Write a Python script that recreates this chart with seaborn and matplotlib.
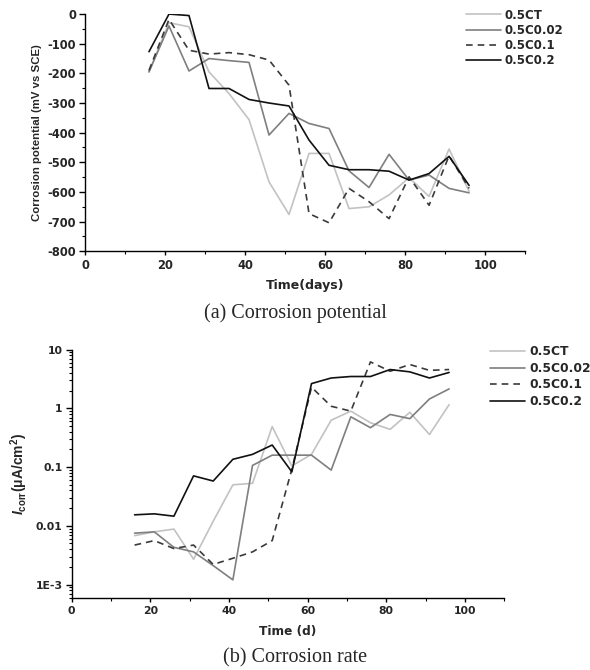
import numpy as np
import pandas as pd
import seaborn as sns
import matplotlib
matplotlib.use('Agg')
import matplotlib.pyplot as plt
from matplotlib.ticker import MultipleLocator, FixedLocator, LogLocator, NullFormatter

days = [16, 21, 26, 31, 36, 41, 46, 51, 56, 61, 66, 71, 76, 81, 86, 91, 96]
samples = ['0.5CT', '0.5C0.02', '0.5C0.1', '0.5C0.2']

# corrosion potential, mV vs SCE
ecorr_ct = [-195, -29, -43, -195, -268, -356, -566, -676, -470, -470, -656, -650, -610, -552, -615, -455, -598]
ecorr_c002 = [-195, -40, -192, -150, -157, -163, -408, -335, -369, -386, -529, -585, -473, -560, -543, -588, -603]
ecorr_c01 = [-190, -18, -122, -135, -130, -137, -155, -240, -673, -704, -588, -633, -690, -549, -645, -478, -588]
ecorr_c02 = [-127, 0, -5, -251, -251, -288, -300, -310, -425, -510, -525, -525, -530, -560, -538, -480, -578]

# corrosion current density, uA/cm2
icorr_ct = [0.0068, 0.0079, 0.0088, 0.0027, 0.012, 0.050, 0.053, 0.49, 0.105, 0.165, 0.63, 0.90, 0.57, 0.44, 0.86, 0.36, 1.16]
icorr_c002 = [0.0075, 0.0079, 0.0043, 0.0036, 0.0021, 0.0012, 0.107, 0.16, 0.16, 0.16, 0.089, 0.72, 0.47, 0.79, 0.67, 1.45, 2.15]
icorr_c01 = [0.0047, 0.0056, 0.0041, 0.0047, 0.0022, 0.0028, 0.0036, 0.0056, 0.092, 2.3, 1.09, 0.90, 6.2, 4.3, 5.6, 4.45, 4.6]
icorr_c02 = [0.0154, 0.016, 0.0146, 0.071, 0.058, 0.136, 0.165, 0.238, 0.083, 2.65, 3.3, 3.5, 3.5, 4.6, 4.2, 3.3, 4.1]

ylog_ticks = [1e-3, 0.01, 0.1, 1, 10]
ylog_labels = ['1E-3', '0.01', '0.1', '1', '10']

colors = {'0.5CT': '#c2c2c2', '0.5C0.02': '#7f7f7f', '0.5C0.1': '#3a3a3a', '0.5C0.2': '#111111'}
dashes = {'0.5CT': '', '0.5C0.02': '', '0.5C0.1': (4, 3), '0.5C0.2': ''}


def long_df(series):
    rows = []
    for name, vals in zip(samples, series):
        for d, v in zip(days, vals):
            rows.append((name, d, v))
    return pd.DataFrame(rows, columns=['sample', 'time', 'value'])


df_e = long_df([ecorr_ct, ecorr_c002, ecorr_c01, ecorr_c02])
df_i = long_df([icorr_ct, icorr_c002, icorr_c01, icorr_c02])

sns.set_style("ticks")
plt.rcParams['font.family'] = ['DejaVu Sans']
plt.rcParams['font.weight'] = 'bold'
plt.rcParams['axes.labelweight'] = 'bold'
plt.rcParams['axes.unicode_minus'] = False
plt.rcParams['mathtext.fontset'] = 'custom'
plt.rcParams['mathtext.rm'] = 'Liberation Sans:bold'
plt.rcParams['mathtext.it'] = 'Liberation Sans:italic:bold'
plt.rcParams['mathtext.bf'] = 'Liberation Sans:bold'
plt.rcParams['axes.linewidth'] = 1.0
plt.rcParams['xtick.major.width'] = 1.0
plt.rcParams['ytick.major.width'] = 1.0

fig = plt.figure(figsize=(5.9, 6.7), dpi=100)
ax1 = fig.add_axes([0.144, 0.625, 0.746, 0.354])
ax2 = fig.add_axes([0.1215, 0.1075, 0.733, 0.3705])

for ax, df in ((ax1, df_e), (ax2, df_i)):
    sns.lineplot(data=df, x='time', y='value', hue='sample', style='sample',
                 palette=colors, dashes=dashes, estimator=None, linewidth=1.2,
                 hue_order=samples, style_order=samples, ax=ax)
    sns.despine(ax=ax)
    for sp in ax.spines.values():
        sp.set_color('black')
    ax.set_xlim(0, 110)
    ax.xaxis.set_major_locator(MultipleLocator(20))
    ax.xaxis.set_minor_locator(MultipleLocator(10))
    ax.tick_params(which='major', length=4, color='black', pad=2.5)
    ax.tick_params(which='minor', length=2.5, color='black', width=0.8)
    ax.tick_params(axis='x', which='major', length=3)

# (a) corrosion potential
ax1.set_ylim(-800, 0)
ax1.yaxis.set_major_locator(MultipleLocator(100))
ax1.yaxis.set_minor_locator(MultipleLocator(50))
ax1.tick_params(labelsize=8.3)
ax1.set_xlabel('Time(days)', fontsize=9, fontweight='bold', labelpad=5)
ax1.set_ylabel('Corrosion potential (mV vs SCE)', family='Liberation Sans', fontweight='bold',
               fontsize=8.2, labelpad=4)
h, l = ax1.get_legend_handles_labels()
ax1.legend(h, l, loc='upper left', bbox_to_anchor=(0.779, 0.996), bbox_transform=fig.transFigure,
           frameon=False, borderpad=0, handlelength=3.0, handletextpad=0.3, labelspacing=0.18,
           prop={'weight': 'bold', 'size': 8.5})

# (b) corrosion rate
ax2.set_yscale('log')
ax2.set_ylim(5.9e-4, 10)
ax2.yaxis.set_major_locator(FixedLocator(ylog_ticks))
ax2.set_yticklabels(ylog_labels)
ax2.yaxis.set_minor_locator(LogLocator(base=10, subs=np.arange(2, 10)))
ax2.yaxis.set_minor_formatter(NullFormatter())
ax2.tick_params(labelsize=7.8)
ax2.set_xlabel('Time (d)', fontsize=8.7, fontweight='bold', labelpad=7)
ax2.set_ylabel(r'$I_{\mathrm{corr}}$(μA/cm$^2$)', family='Liberation Sans', fontweight='bold',
               fontsize=10, labelpad=4)
h, l = ax2.get_legend_handles_labels()
ax2.legend(h, l, loc='upper left', bbox_to_anchor=(0.82, 0.494), bbox_transform=fig.transFigure,
           frameon=False, borderpad=0, handlelength=2.9, handletextpad=0.3, labelspacing=0.3,
           prop={'weight': 'bold', 'size': 8.8})

fig.text(0.5, 1 - 313 / 670, '(a) Corrosion potential', ha='center', va='center',
         family='Liberation Serif', fontweight='normal', fontsize=14.5)
fig.text(0.5, 1 - 658 / 670, '(b) Corrosion rate', ha='center', va='center',
         family='Liberation Serif', fontweight='normal', fontsize=14.5)

fig.savefig('out.png', dpi=100)
